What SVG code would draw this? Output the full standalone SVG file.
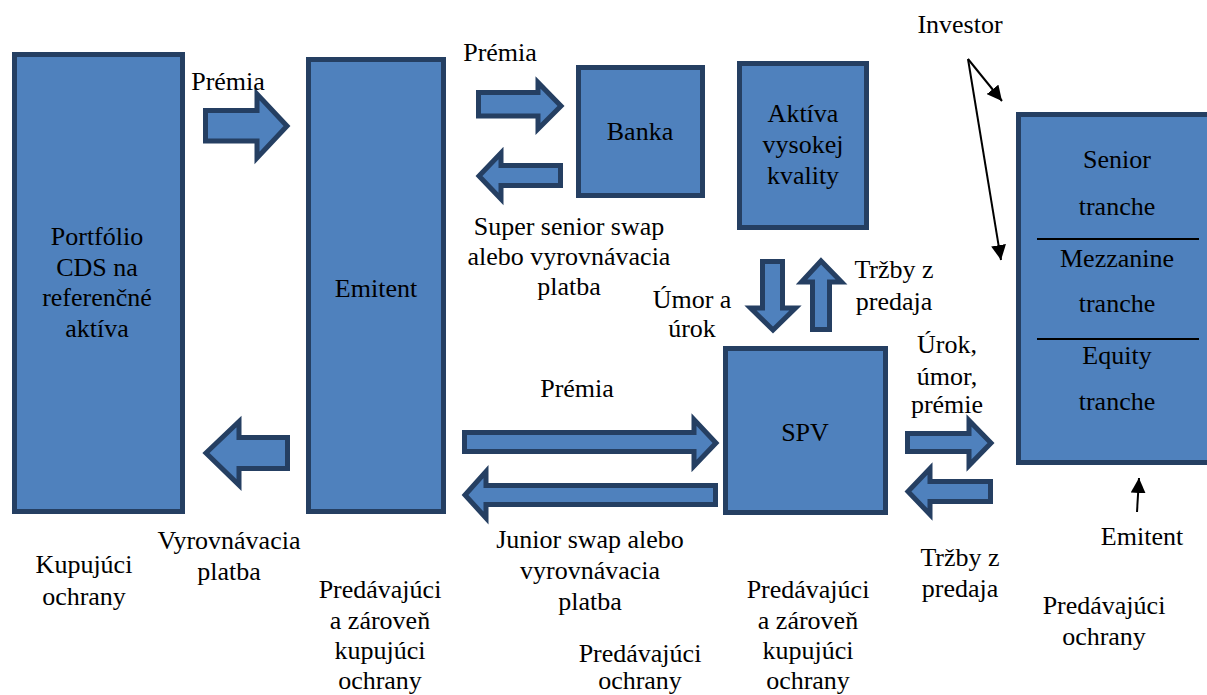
<svg xmlns="http://www.w3.org/2000/svg" width="1207" height="695" viewBox="0 0 1207 695">
<style>
.box{fill:#4F81BD;stroke:#253F62;stroke-width:5}
.arr{fill:#4F81BD;stroke:#253F62;stroke-width:5;stroke-linejoin:miter}
.t text{font-size:26px;fill:#000;text-anchor:middle}
.ln{stroke:#000;stroke-width:2;fill:none}
</style>
<defs>
<marker id="ah" viewBox="0 0 10 10" refX="10" refY="5" markerWidth="7.5" markerHeight="7.5" markerUnits="strokeWidth" orient="auto">
<path d="M0,0 L10,5 L0,10 Z" fill="#000"/>
</marker>
</defs>
<rect width="1207" height="695" fill="#fff"/>

<g class="t" font-family="'Liberation Serif', 'Times New Roman', 'DejaVu Serif', serif">
<g id="portfolio">
<rect class="box" x="14.5" y="54.5" width="168" height="457"/>
<text x="97" y="245">Portfólio</text>
<text x="97" y="276">CDS na</text>
<text x="97" y="306">referenčné</text>
<text x="97" y="337">aktíva</text>
</g>

<g id="emitent">
<rect class="box" x="308.5" y="59.5" width="135" height="452"/>
<text x="376" y="297">Emitent</text>
</g>

<g id="banka">
<rect class="box" x="578.5" y="67.5" width="124" height="128"/>
<text x="640" y="140">Banka</text>
</g>

<g id="aktiva">
<rect class="box" x="739.5" y="63.5" width="127" height="164"/>
<text x="803" y="122">Aktíva</text>
<text x="803" y="153">vysokej</text>
<text x="803" y="184">kvality</text>
</g>

<g id="spv">
<rect class="box" x="725.5" y="348.5" width="160" height="164"/>
<text x="805" y="441">SPV</text>
</g>

<g id="tranches">
<rect class="box" x="1018.5" y="114.5" width="200" height="348"/>
<line class="ln" x1="1037" y1="239" x2="1199" y2="239"/>
<line class="ln" x1="1037" y1="339" x2="1199" y2="339"/>
<text x="1117" y="168">Senior</text>
<text x="1117" y="215">tranche</text>
<text x="1117" y="267">Mezzanine</text>
<text x="1117" y="312">tranche</text>
<text x="1117" y="364">Equity</text>
<text x="1117" y="410">tranche</text>
</g>

<g id="connectors">
<path class="arr" d="M205.5,110.5 H257 V94 L287,126 L257,158 V141 H205.5 Z"/>
<path class="arr" d="M287.5,437.5 H239 V421.5 L206,453 L239,485 V468.5 H287.5 Z"/>
<path class="arr" d="M478.5,92.5 H538 V82.5 L561,106 L538,129 V116 H478.5 Z"/>
<path class="arr" d="M560.5,165.5 H501 V153 L479,176 L501,199 V185.5 H560.5 Z"/>
<path class="arr" d="M762.5,261.5 V308 H750.5 L773,330 L795.5,308 H782.5 V261.5 Z"/>
<path class="arr" d="M812.5,329.5 V282 H801.5 L821,261 L841.5,282 H829.5 V329.5 Z"/>
<path class="arr" d="M464.5,432.5 H694 V419.5 L716,443 L694,466 V451.5 H464.5 Z"/>
<path class="arr" d="M715.5,485.5 H486 V471.5 L465,495 L486,518 V504.5 H715.5 Z"/>
<path class="arr" d="M907.5,433.5 H969 V420.5 L991,443 L969,465.5 V451.5 H907.5 Z"/>
<path class="arr" d="M990.5,481.5 H930 V468.5 L908,491.5 L930,514.5 V501.5 H990.5 Z"/>
<line class="ln" x1="968" y1="59" x2="1002" y2="101" marker-end="url(#ah)"/>
<line class="ln" x1="968" y1="59" x2="1001" y2="260" marker-end="url(#ah)"/>
<line class="ln" x1="1137" y1="512" x2="1139" y2="478" marker-end="url(#ah)"/>
</g>

<g id="labels">
<text x="228" y="90">Prémia</text>
<text x="500" y="61">Prémia</text>
<text x="960" y="33">Investor</text>
<text x="569" y="235">Super senior swap</text>
<text x="569" y="265">alebo vyrovnávacia</text>
<text x="569" y="295">platba</text>
<text x="692" y="308">Úmor a</text>
<text x="692" y="337">úrok</text>
<text x="894" y="278">Tržby z</text>
<text x="894" y="310">predaja</text>
<text x="947" y="353">Úrok,</text>
<text x="947" y="385">úmor,</text>
<text x="947" y="413">prémie</text>
<text x="577" y="397">Prémia</text>
<text x="84" y="573">Kupujúci</text>
<text x="84" y="605">ochrany</text>
<text x="229" y="549">Vyrovnávacia</text>
<text x="229" y="580">platba</text>
<text x="380" y="598">Predávajúci</text>
<text x="380" y="629">a zároveň</text>
<text x="380" y="659">kupujúci</text>
<text x="380" y="689">ochrany</text>
<text x="590" y="548">Junior swap alebo</text>
<text x="590" y="579">vyrovnávacia</text>
<text x="590" y="610">platba</text>
<text x="640" y="662">Predávajúci</text>
<text x="640" y="689">ochrany</text>
<text x="808" y="598">Predávajúci</text>
<text x="808" y="629">a zároveň</text>
<text x="808" y="659">kupujúci</text>
<text x="808" y="689">ochrany</text>
<text x="960" y="566">Tržby z</text>
<text x="960" y="597">predaja</text>
<text x="1142" y="545">Emitent</text>
<text x="1104" y="614">Predávajúci</text>
<text x="1104" y="645">ochrany</text>
</g>
</g>
</svg>
